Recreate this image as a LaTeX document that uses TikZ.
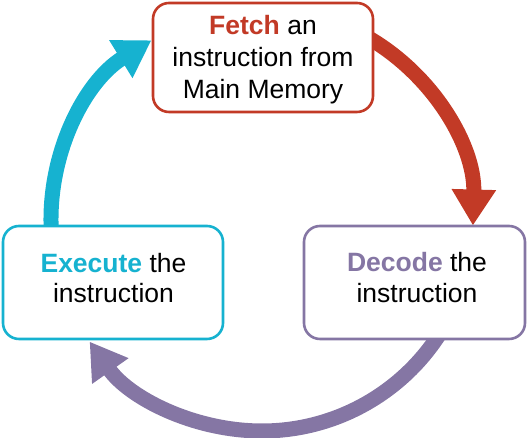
\documentclass[tikz,border=0pt]{standalone}
\usepackage{fontspec}
\setmainfont{Liberation Sans}
\usetikzlibrary{arrows.meta}
\definecolor{fred}{RGB}{194,58,38}
\definecolor{fcyan}{RGB}{22,178,208}
\definecolor{fpurple}{RGB}{133,118,164}
\begin{document}
\begin{tikzpicture}[x=1pt,y=1pt,
  stagebox/.style={draw, line width=2.6pt, rounded corners=16pt, fill=white, inner sep=0pt},
  txt/.style={anchor=base, font=\fontsize{26.5}{31.5}\selectfont, inner sep=0pt, text=black},
  cyc/.style={line width=15pt, -{Triangle[width=42pt,length=36pt]}}]
\useasboundingbox (0,0) rectangle (528,438);
\coordinate (c) at (262,218);
% cycle arrows (drawn first, boxes cover their starts)
\draw[cyc, fred] ([shift={(62:211pt)}]c) arc[start angle=62, end angle=-1.5, radius=211pt];
\draw[cyc, fpurple] ([shift={(-30:211pt)}]c) arc[start angle=-30, end angle=-144.8, radius=211pt];
\draw[cyc, fcyan] ([shift={(185:211pt)}]c) arc[start angle=185, end angle=121.6, radius=211pt];
% boxes
\node[stagebox, draw=fred, minimum width=220pt, minimum height=109pt] (fetch) at (263,380.5) {};
\node[stagebox, draw=fcyan, minimum width=220pt, minimum height=113pt] (execute) at (113,155.5) {};
\node[stagebox, draw=fpurple, minimum width=221pt, minimum height=113pt] (decode) at (414.5,155.5) {};
% texts
\node[txt] (f1) at (263,403) {\textcolor{fred}{\bfseries Fetch} an};
\node[txt] (f2) at (263,371) {instruction from};
\node[txt] (f3) at (263,339) {Main Memory};
\node[txt] (e1) at (113.5,165) {\textcolor{fcyan}{\bfseries Execute} the};
\node[txt] (e2) at (113.5,135) {instruction};
\node[txt] (d1) at (417,166) {\textcolor{fpurple}{\bfseries Decode} the};
\node[txt] (d2) at (417,135) {instruction};
\end{tikzpicture}
\end{document}
